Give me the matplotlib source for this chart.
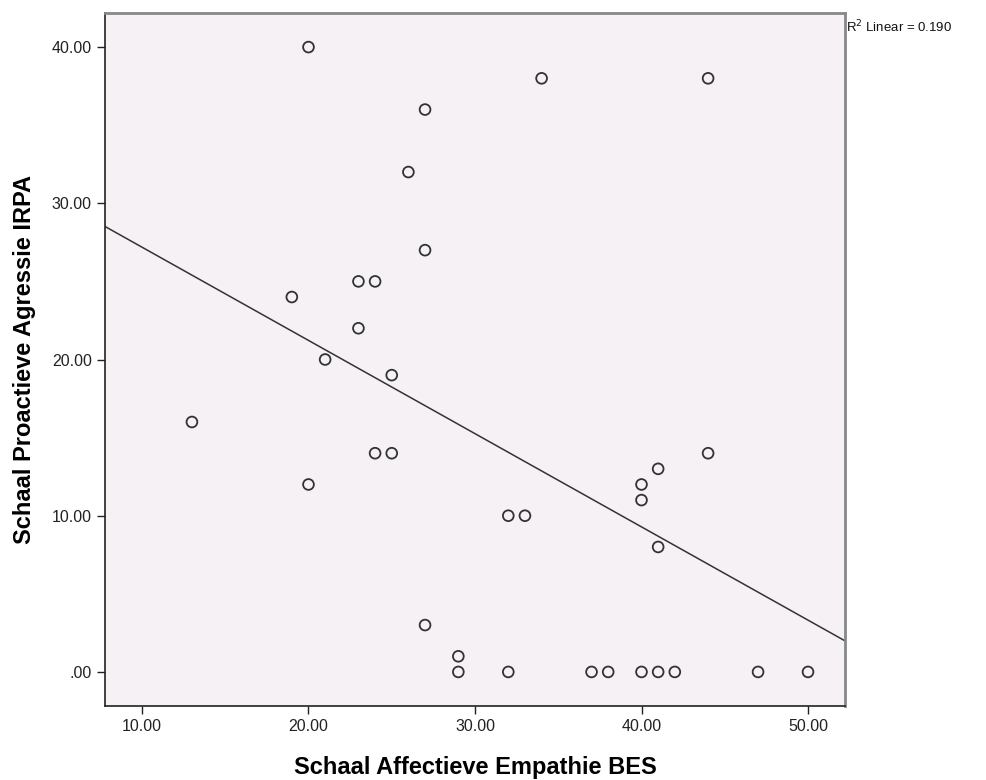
import numpy as np
import matplotlib.pyplot as plt

# Schaal Affectieve Empathie BES vs Schaal Proactieve Agressie IRPA
empathie = [20, 34, 44, 27, 26, 27, 23, 24, 19, 23, 21, 25, 13, 24, 25, 44, 41,
            40, 20, 40, 32, 33, 41, 27, 29, 29, 32, 37, 38, 40, 41, 42, 47, 50]
agressie = [40, 38, 38, 36, 32, 27, 25, 25, 24, 22, 20, 19, 16, 14, 14, 14, 13,
            12, 12, 11, 10, 10, 8, 3, 1, 0, 0, 0, 0, 0, 0, 0, 0, 0]
x_ticks = [10, 20, 30, 40, 50]
y_ticks = [0, 10, 20, 30, 40]
r2_text = "R$^2$ Linear = 0.190"

plt.rcParams['font.family'] = ['Liberation Sans', 'DejaVu Sans']

x = np.array(empathie, dtype=float)
y = np.array(agressie, dtype=float)

fig = plt.figure(figsize=(9.87, 7.8), dpi=100)
ax = fig.add_axes([0.1064, 0.0949, 0.7497, 0.8884])
ax.set_facecolor('#f5f1f5')

ax.scatter(x, y, s=60, facecolors='none', edgecolors='#333333', linewidths=1.3, zorder=3)

# lineaire fit
slope, intercept = np.polyfit(x, y, 1)
xmin, xmax = 7.78, 52.22
xl = np.array([xmin, xmax])
ax.plot(xl, slope * xl + intercept, color='#333333', linewidth=1.1, zorder=2)

ax.set_xlim(xmin, xmax)
ax.set_ylim(-2.18, 42.18)
ax.set_xticks(x_ticks)
ax.set_xticklabels(["%.2f" % v for v in x_ticks])
ax.set_yticks(y_ticks)
ax.set_yticklabels([("%.2f" % v) if v != 0 else ".00" for v in y_ticks])
ax.tick_params(direction='out', length=6, width=1, labelsize=11.5, colors='#222222')

for s in ['left', 'bottom']:
    ax.spines[s].set_color('#222222')
    ax.spines[s].set_linewidth(1.2)
for s in ['top', 'right']:
    ax.spines[s].set_color('#888888')
    ax.spines[s].set_linewidth(2)

ax.set_xlabel("Schaal Affectieve Empathie BES", fontsize=17, fontweight='bold')
ax.set_ylabel("Schaal Proactieve Agressie IRPA", fontsize=17, fontweight='bold')
ax.xaxis.set_label_coords(0.5, -0.072)
ax.yaxis.set_label_coords(-0.093, 0.5)

fig.text(0.857, 0.966, r2_text, fontsize=9.5, ha='left', va='center', color='#111111')

fig.savefig("out.png", dpi=100)
